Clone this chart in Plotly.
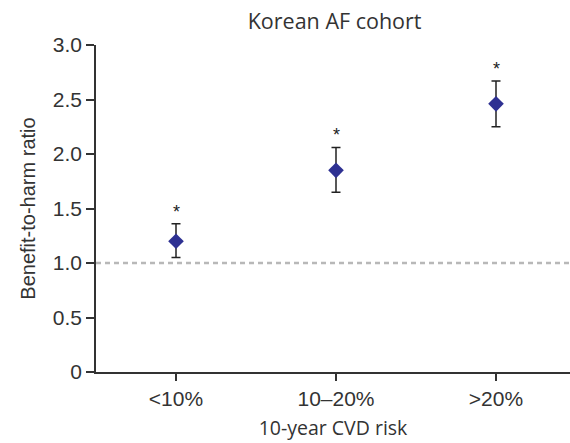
import plotly.graph_objects as go

categories = ["<10%", "10–20%", ">20%"]
ratio = [1.20, 1.85, 2.46]
ci_upper = [1.36, 2.06, 2.67]
ci_lower = [1.05, 1.65, 2.25]
significance = ["*", "*", "*"]
y_ticks = [0, 0.5, 1.0, 1.5, 2.0, 2.5, 3.0]
y_tick_labels = ["0", "0.5", "1.0", "1.5", "2.0", "2.5", "3.0"]
reference_line = 1.0

xpos = list(range(len(categories)))
err_plus = [u - r for u, r in zip(ci_upper, ratio)]
err_minus = [r - l for r, l in zip(ratio, ci_lower)]

fig = go.Figure()
fig.add_trace(go.Scatter(
    x=[-0.5, 2.47], y=[reference_line, reference_line], mode="lines",
    line=dict(color="#b8b8b8", width=2.5, dash="5px,4px"), hoverinfo="skip", showlegend=False,
))
fig.add_trace(go.Scatter(
    x=xpos, y=ratio, mode="markers",
    marker=dict(symbol="diamond", size=12, color="#2e3192"),
    error_y=dict(type="data", array=err_plus, arrayminus=err_minus,
                 color="#222222", thickness=1.5, width=4.5),
    showlegend=False,
))
for x, u, s in zip(xpos, ci_upper, significance):
    fig.add_annotation(x=x, y=u, text=s, showarrow=False, yanchor="bottom", yshift=0,
                       font=dict(family="Liberation Sans, Arial", size=18, color="#222"))

fig.update_layout(
    width=570, height=443,
    margin=dict(l=96, r=0, t=45, b=71),
    paper_bgcolor="white", plot_bgcolor="white",
    title=dict(text="Korean AF cohort", x=0.587, xanchor="center", y=0.952, yanchor="middle",
               font=dict(family="Open Sans, Noto Sans", size=21.5, color="#333")),
    xaxis=dict(range=[-0.5, 2.4625], tickvals=xpos, ticktext=categories,
               showgrid=False, zeroline=False, showline=True, linecolor="#333", linewidth=1.5,
               ticks="outside", ticklen=7, tickcolor="#333", tickwidth=1.5,
               tickfont=dict(family="Liberation Sans, Arial", size=21, color="#333"),
               title=dict(text="10-year CVD risk", standoff=12,
                          font=dict(family="Open Sans, Noto Sans", size=19.5, color="#333"))),
    yaxis=dict(range=[0, 3.0], tickvals=y_ticks, ticktext=y_tick_labels,
               showgrid=False, zeroline=False, showline=True, linecolor="#333", linewidth=1.5,
               ticks="outside", ticklen=8, tickcolor="#333", tickwidth=1.5,
               tickfont=dict(family="Liberation Sans, Arial", size=21, color="#333"),
               title=dict(text="Benefit-to-harm ratio", standoff=12,
                          font=dict(family="Liberation Sans, Arial", size=20, color="#333"))),
)

fig.write_html("out.html")
